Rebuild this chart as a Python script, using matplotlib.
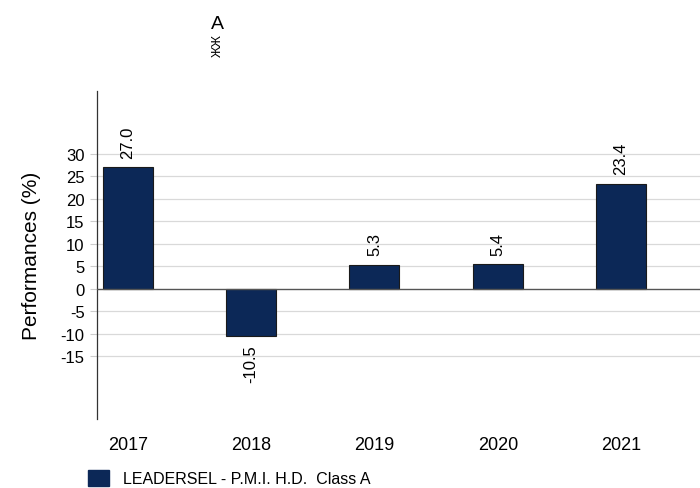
import matplotlib.pyplot as plt
from matplotlib.patches import Patch

years = ["2017", "2018", "2019", "2020", "2021"]
perf = [27.0, -10.5, 5.3, 5.4, 23.4]
yticks = [-15, -10, -5, 0, 5, 10, 15, 20, 25, 30]
series_name = "LEADERSEL - P.M.I. H.D.  Class A"
bar_color = "#0c2857"

plt.rcParams["font.family"] = ["Liberation Sans", "DejaVu Sans"]

fig = plt.figure(figsize=(7, 4.89), dpi=100)
ax = fig.add_axes([0.1386, 0.141, 0.8614, 0.671])

x = list(range(len(years)))
ax.bar(x, perf, width=0.405, color=bar_color, edgecolor="#1a1a1a", linewidth=0.8, zorder=3)

for xi, v in zip(x, perf):
    if v >= 0:
        ax.annotate(f"{v:.1f}", (xi, v), xytext=(0, 7), textcoords="offset points",
                    rotation=90, ha="center", va="bottom", fontsize=12)
    else:
        ax.annotate(f"{v:.1f}", (xi, v), xytext=(0, -6), textcoords="offset points",
                    rotation=90, ha="center", va="top", fontsize=12)

ax.set_xlim(-0.25, 4.64)
ax.set_ylim(-29, 44)
ax.set_yticks(yticks)
ax.set_yticklabels([str(t) for t in yticks], fontsize=12)
ax.set_xticks(x)
ax.set_xticklabels(years, fontsize=13)
ax.tick_params(axis="x", length=0, pad=12)
ax.tick_params(axis="y", length=5, color="#cccccc", pad=4)

for t in yticks:
    ax.axhline(t, color="#555555" if t == 0 else "#d9d9d9", linewidth=1 if t == 0 else 0.9, zorder=1 if t else 4)

for s in ["top", "right", "bottom"]:
    ax.spines[s].set_visible(False)
ax.spines["left"].set_color("#333333")
ax.spines["left"].set_linewidth(0.9)

ax.set_ylabel("Performances (%)", fontsize=15, labelpad=14)

fig.text(0.31, 0.949, "A", ha="center", va="center", fontsize=14)
fig.text(0.311, 0.906, "ЖЖ", ha="center", va="center", fontsize=9, rotation=90)

fig.legend(handles=[Patch(facecolor=bar_color, edgecolor=bar_color, label=series_name)],
           loc="center left", bbox_to_anchor=(0.1257, 0.02), frameon=False,
           fontsize=11.5, handlelength=1.3, handleheight=1.15, handletextpad=0.9,
           borderpad=0, borderaxespad=0)

fig.savefig("out.png", dpi=100)
